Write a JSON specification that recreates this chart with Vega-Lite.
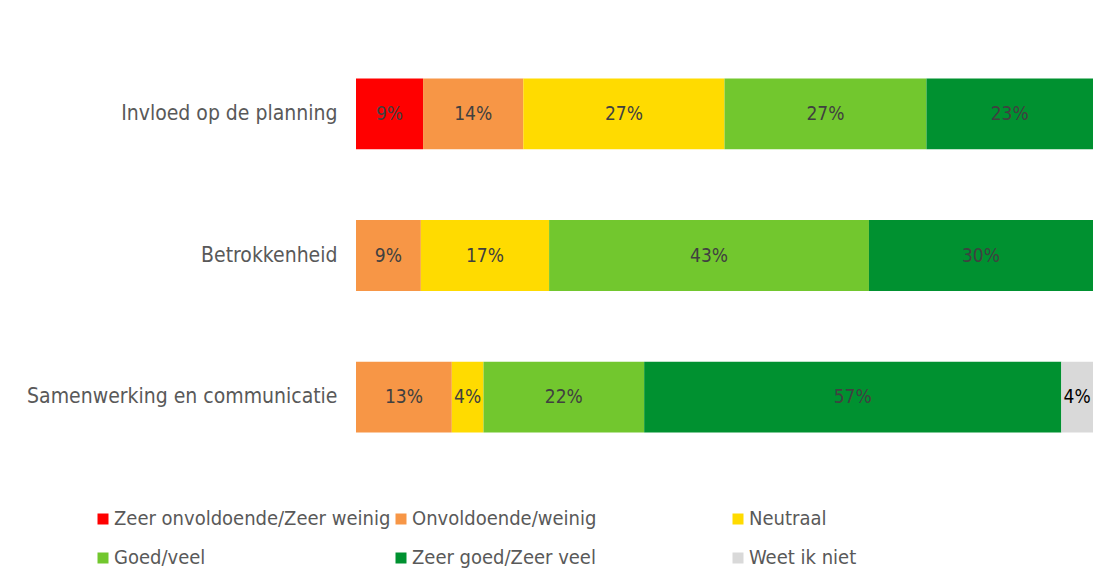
{
  "$schema": "https://vega.github.io/schema/vega-lite/v6.json",
  "autosize": {"type": "none"},
  "padding": {"left": 356, "top": 43, "right": 17, "bottom": 113},
  "width": 737,
  "height": 425,
  "background": "white",
  "config": {"view": {"stroke": null}, "font": "DejaVu Sans Condensed"},
  "data": {"values": [
    {"item": "Invloed op de planning", "cat": "Zeer onvoldoende/Zeer weinig", "k": 1, "v": 0.091},
    {"item": "Invloed op de planning", "cat": "Onvoldoende/weinig", "k": 2, "v": 0.136},
    {"item": "Invloed op de planning", "cat": "Neutraal", "k": 3, "v": 0.273},
    {"item": "Invloed op de planning", "cat": "Goed/veel", "k": 4, "v": 0.274},
    {"item": "Invloed op de planning", "cat": "Zeer goed/Zeer veel", "k": 5, "v": 0.226},
    {"item": "Betrokkenheid", "cat": "Onvoldoende/weinig", "k": 2, "v": 0.088},
    {"item": "Betrokkenheid", "cat": "Neutraal", "k": 3, "v": 0.174},
    {"item": "Betrokkenheid", "cat": "Goed/veel", "k": 4, "v": 0.434},
    {"item": "Betrokkenheid", "cat": "Zeer goed/Zeer veel", "k": 5, "v": 0.304},
    {"item": "Samenwerking en communicatie", "cat": "Onvoldoende/weinig", "k": 2, "v": 0.13},
    {"item": "Samenwerking en communicatie", "cat": "Neutraal", "k": 3, "v": 0.043},
    {"item": "Samenwerking en communicatie", "cat": "Goed/veel", "k": 4, "v": 0.218},
    {"item": "Samenwerking en communicatie", "cat": "Zeer goed/Zeer veel", "k": 5, "v": 0.566},
    {"item": "Samenwerking en communicatie", "cat": "Weet ik niet", "k": 6, "v": 0.043}
  ]},
  "encoding": {
    "y": {"field": "item", "type": "nominal", "sort": null, "title": null,
      "scale": {"paddingInner": 0.5, "paddingOuter": 0.25},
      "axis": {"domain": false, "ticks": false, "labelFontSize": 21, "labelColor": "#595959", "labelPadding": 19, "labelLimit": 400}},
    "order": {"field": "k", "type": "quantitative"}
  },
  "layer": [
    {
      "mark": {"type": "bar"},
      "encoding": {
        "x": {"field": "v", "type": "quantitative", "stack": "zero", "scale": {"domain": [0, 1]}, "axis": null},
        "color": {"field": "cat", "type": "nominal", "title": null,
          "scale": {
            "domain": ["Zeer onvoldoende/Zeer weinig", "Onvoldoende/weinig", "Neutraal", "Goed/veel", "Zeer goed/Zeer veel", "Weet ik niet"],
            "range": ["#FF0000", "#F79646", "#FFDB00", "#72C72E", "#009130", "#D9D9D9"]
          },
          "legend": {
            "orient": "none", "legendX": -263, "legendY": 466,
            "columns": 3, "direction": "horizontal",
            "symbolType": "square", "symbolSize": 121, "symbolStrokeWidth": 0,
            "labelFontSize": 20, "labelColor": "#595959", "labelOffset": 1,
            "labelLimit": 400, "rowPadding": 19, "columnPadding": 0,
            "labelExpr": "datum.value === 'Onvoldoende/weinig' ? datum.label + '                       \u200b' : datum.label"
          }
        }
      }
    },
    {
      "mark": {"type": "text", "fontSize": 19},
      "encoding": {
        "x": {"field": "v", "type": "quantitative", "stack": "zero", "bandPosition": 0.5},
        "text": {"field": "v", "type": "quantitative", "format": ".0%"},
        "color": {"condition": {"test": "datum.cat === 'Weet ik niet'", "value": "#000000"}, "value": "#404040"}
      }
    }
  ]
}
